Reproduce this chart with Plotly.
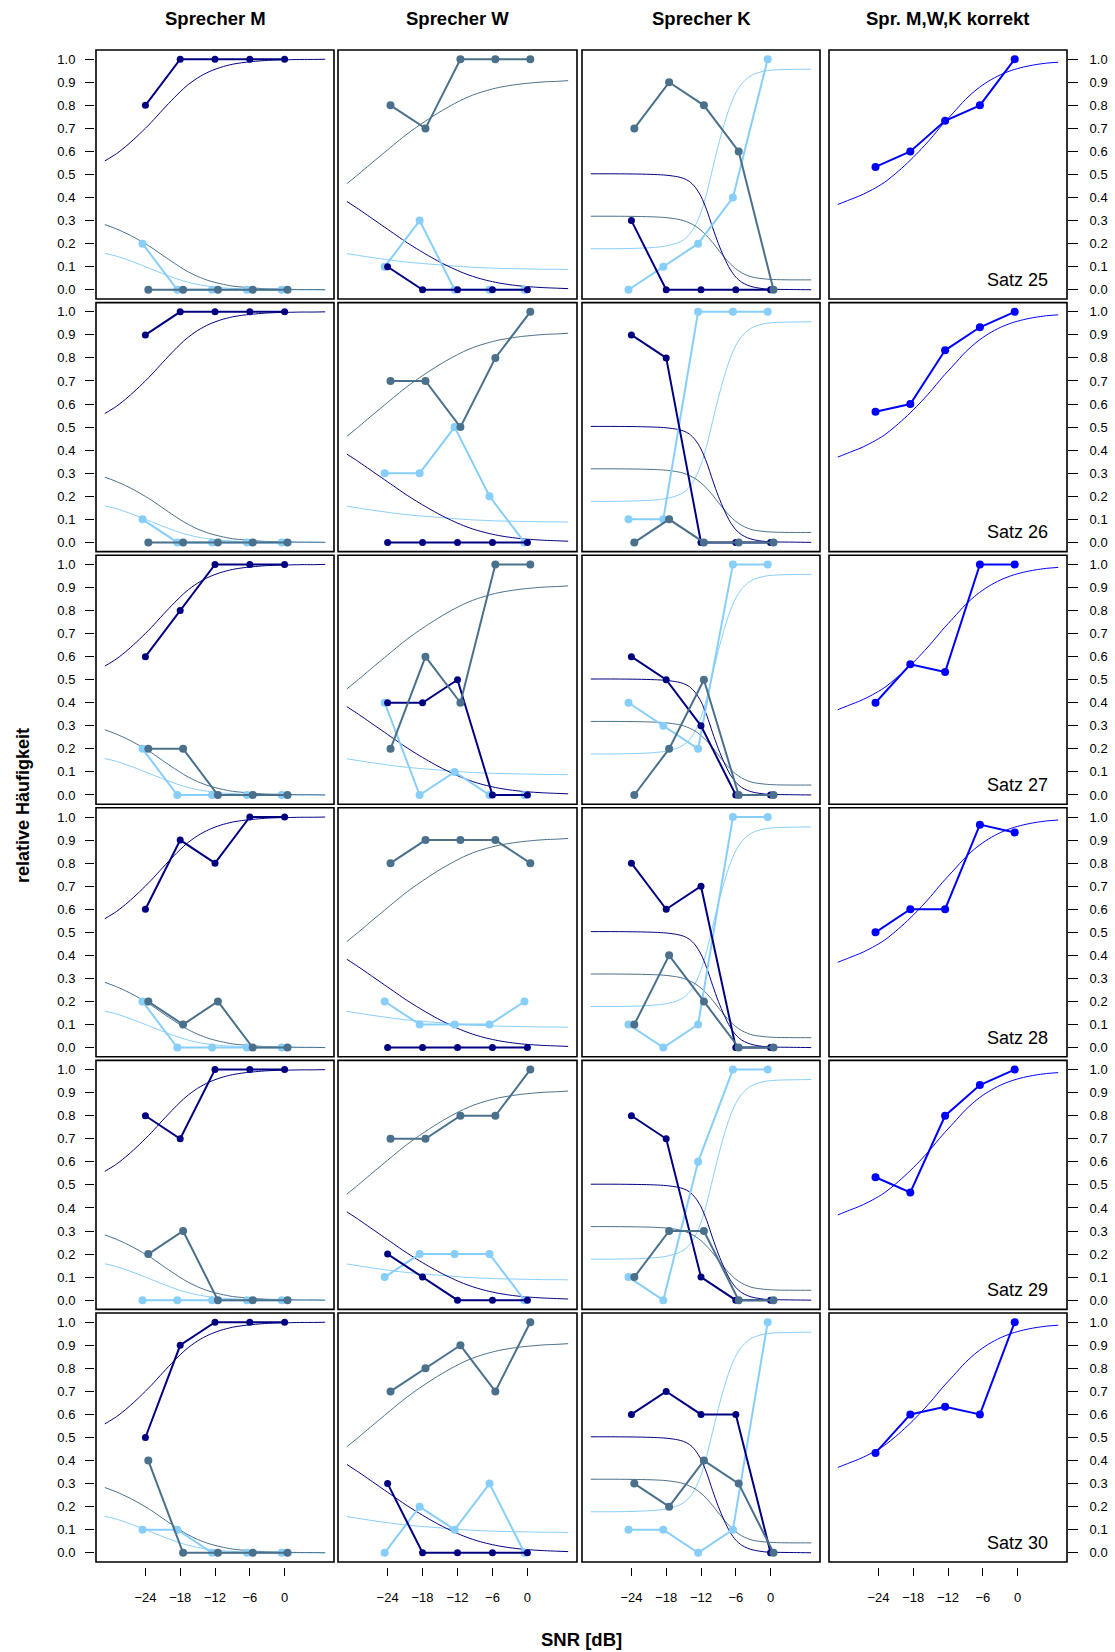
import plotly.graph_objects as go

# ---------------- data ----------------
SNR = [-24, -18, -12, -6, 0]
Y_TICKS = [0.0, 0.1, 0.2, 0.3, 0.4, 0.5, 0.6, 0.7, 0.8, 0.9, 1.0]
Y_TICK_TEXT = ["0.0", "0.1", "0.2", "0.3", "0.4", "0.5", "0.6", "0.7", "0.8", "0.9", "1.0"]
SPEAKERS = ["Sprecher M", "Sprecher W", "Sprecher K", "Spr. M,W,K korrekt"]
SATZ = ["Satz 25", "Satz 26", "Satz 27", "Satz 28", "Satz 29", "Satz 30"]

# observed relative frequencies, one row per Satz (25..30)
M_NAVY = [[0.8, 1, 1, 1, 1], [0.9, 1, 1, 1, 1], [0.6, 0.8, 1, 1, 1],
          [0.6, 0.9, 0.8, 1, 1], [0.8, 0.7, 1, 1, 1], [0.5, 0.9, 1, 1, 1]]
M_STEEL = [[0, 0, 0, 0, 0], [0, 0, 0, 0, 0], [0.2, 0.2, 0, 0, 0],
           [0.2, 0.1, 0.2, 0, 0], [0.2, 0.3, 0, 0, 0], [0.4, 0, 0, 0, 0]]
M_LIGHT = [[0.2, 0, 0, 0, 0], [0.1, 0, 0, 0, 0], [0.2, 0, 0, 0, 0],
           [0.2, 0, 0, 0, 0], [0, 0, 0, 0, 0], [0.1, 0.1, 0, 0, 0]]

W_NAVY = [[0.1, 0, 0, 0, 0], [0, 0, 0, 0, 0], [0.4, 0.4, 0.5, 0, 0],
          [0, 0, 0, 0, 0], [0.2, 0.1, 0, 0, 0], [0.3, 0, 0, 0, 0]]
W_STEEL = [[0.8, 0.7, 1, 1, 1], [0.7, 0.7, 0.5, 0.8, 1], [0.2, 0.6, 0.4, 1, 1],
           [0.8, 0.9, 0.9, 0.9, 0.8], [0.7, 0.7, 0.8, 0.8, 1], [0.7, 0.8, 0.9, 0.7, 1]]
W_LIGHT = [[0.1, 0.3, 0, 0, 0], [0.3, 0.3, 0.5, 0.2, 0], [0.4, 0, 0.1, 0, 0],
           [0.2, 0.1, 0.1, 0.1, 0.2], [0.1, 0.2, 0.2, 0.2, 0], [0, 0.2, 0.1, 0.3, 0]]

K_NAVY = [[0.3, 0, 0, 0, 0], [0.9, 0.8, 0, 0, 0], [0.6, 0.5, 0.3, 0, 0],
          [0.8, 0.6, 0.7, 0, 0], [0.8, 0.7, 0.1, 0, 0], [0.6, 0.7, 0.6, 0.6, 0]]
K_STEEL = [[0.7, 0.9, 0.8, 0.6, 0], [0, 0.1, 0, 0, 0], [0, 0.2, 0.5, 0, 0],
           [0.1, 0.4, 0.2, 0, 0], [0.1, 0.3, 0.3, 0, 0], [0.3, 0.2, 0.4, 0.3, 0]]
K_LIGHT = [[0, 0.1, 0.2, 0.4, 1], [0.1, 0.1, 1, 1, 1], [0.4, 0.3, 0.2, 1, 1],
           [0.1, 0, 0.1, 1, 1], [0.1, 0, 0.6, 1, 1], [0.1, 0.1, 0, 0.1, 1]]

KORREKT = [[0.533, 0.6, 0.733, 0.8, 1.0], [0.567, 0.6, 0.833, 0.933, 1.0],
           [0.4, 0.567, 0.533, 1.0, 1.0], [0.5, 0.6, 0.6, 0.967, 0.933],
           [0.533, 0.467, 0.8, 0.933, 1.0], [0.433, 0.6, 0.633, 0.6, 1.0]]

# fitted curves, same in every row of a column
FIT_X = [-31, -29, -27, -25, -23, -21, -19, -17, -15, -13, -11, -9, -7, -5, -3, -1, 1, 3, 5, 7]
M_NAVY_FIT = [0.559, 0.590, 0.630, 0.676, 0.726, 0.781, 0.834, 0.882, 0.919, 0.946,
              0.965, 0.978, 0.986, 0.991, 0.995, 0.997, 0.998, 0.999, 0.999, 1.0]
M_STEEL_FIT = [0.283, 0.264, 0.241, 0.214, 0.184, 0.149, 0.115, 0.083, 0.058, 0.039,
               0.026, 0.016, 0.011, 0.007, 0.004, 0.003, 0.002, 0.001, 0.001, 0.0]
M_LIGHT_FIT = [0.158, 0.146, 0.129, 0.110, 0.090, 0.070, 0.051, 0.035, 0.023, 0.015,
               0.009, 0.006, 0.003, 0.002, 0.001, 0.001, 0.0, 0.0, 0.0, 0.0]
W_NAVY_FIT = [0.383, 0.350, 0.315, 0.280, 0.245, 0.210, 0.178, 0.148, 0.120, 0.095,
              0.073, 0.055, 0.041, 0.030, 0.022, 0.016, 0.012, 0.009, 0.007, 0.005]
W_STEEL_FIT = [0.460, 0.501, 0.544, 0.586, 0.628, 0.669, 0.706, 0.740, 0.772, 0.801,
               0.827, 0.848, 0.864, 0.877, 0.886, 0.893, 0.898, 0.902, 0.904, 0.907]
W_LIGHT_FIT = [0.157, 0.149, 0.141, 0.134, 0.127, 0.121, 0.116, 0.112, 0.108, 0.104,
               0.100, 0.097, 0.095, 0.093, 0.092, 0.091, 0.090, 0.089, 0.089, 0.088]
KORREKT_FIT = [0.370, 0.390, 0.410, 0.435, 0.465, 0.505, 0.550, 0.600, 0.655, 0.715,
               0.770, 0.825, 0.870, 0.905, 0.932, 0.952, 0.966, 0.976, 0.983, 0.987]

FIT_X_K = [-31, -27, -23, -20, -18, -16, -15, -14, -13, -12, -11, -10, -9, -8, -7, -6,
           -5, -4, -3, -1, 1, 4, 7]
K_NAVY_FIT = [0.503, 0.503, 0.502, 0.500, 0.497, 0.490, 0.483, 0.470, 0.445, 0.405, 0.345,
              0.270, 0.200, 0.140, 0.090, 0.055, 0.033, 0.020, 0.012, 0.004, 0.002, 0.001, 0.0]
K_STEEL_FIT = [0.319, 0.319, 0.318, 0.316, 0.313, 0.306, 0.300, 0.290, 0.277, 0.258, 0.234,
               0.205, 0.173, 0.142, 0.114, 0.091, 0.074, 0.062, 0.054, 0.047, 0.044, 0.043, 0.043]
K_LIGHT_FIT = [0.178, 0.178, 0.180, 0.184, 0.190, 0.204, 0.217, 0.240, 0.278, 0.337, 0.421,
               0.525, 0.627, 0.718, 0.796, 0.854, 0.893, 0.918, 0.934, 0.949, 0.954, 0.956, 0.957]

# ---------------- styling ----------------
NAVY = "#000080"
STEEL = "#4A708B"
LIGHT = "#87CEFA"
BLUE = "#0000FF"
FONT = "Liberation Sans, Arial, Helvetica, sans-serif"

W, H = 1115, 1652
COL_PX = [(96, 334), (338, 577), (582, 820), (829, 1067)]
ROW_TOP = [50, 302.6, 555.2, 807.8, 1060.4, 1313]
ROW_H = 249
X_RANGE = [-32.52, 8.52]
Y_RANGE = [-0.04, 1.04]

OFF = {"light": -0.5, "navy": 0.0, "steel": 0.5, "blue": -0.5}

fig = go.Figure()
layout = dict(
    width=W, height=H, margin=dict(l=0, r=0, t=0, b=0),
    paper_bgcolor="white", plot_bgcolor="white",
    font=dict(family=FONT, color="black", size=13),
    showlegend=False,
)
shapes = []
annotations = []

column_data = [
    (M_NAVY, M_STEEL, M_LIGHT, M_NAVY_FIT, M_STEEL_FIT, M_LIGHT_FIT, FIT_X),
    (W_NAVY, W_STEEL, W_LIGHT, W_NAVY_FIT, W_STEEL_FIT, W_LIGHT_FIT, FIT_X),
    (K_NAVY, K_STEEL, K_LIGHT, K_NAVY_FIT, K_STEEL_FIT, K_LIGHT_FIT, FIT_X_K),
]

for r in range(6):
    for c in range(4):
        idx = r * 4 + c + 1
        xa = f"x{idx}" if idx > 1 else "x"
        ya = f"y{idx}" if idx > 1 else "y"
        xname = f"xaxis{idx}" if idx > 1 else "xaxis"
        yname = f"yaxis{idx}" if idx > 1 else "yaxis"
        l, rr = COL_PX[c]
        top = ROW_TOP[r]
        xdom = [l / W, rr / W]
        ydom = [1 - (top + ROW_H) / H, 1 - top / H]

        xax = dict(domain=xdom, range=X_RANGE, showgrid=False, zeroline=False,
                   showline=False, fixedrange=True)
        if r == 5:
            xax.update(anchor="free", position=1 - (top + ROW_H + 4.5) / H,
                       tickmode="array", tickvals=SNR, ticks="outside", ticklen=8,
                       tickwidth=1.3, tickcolor="black", showticklabels=True,
                       ticklabelstandoff=11, tickfont=dict(size=13, family=FONT))
        else:
            xax.update(anchor=ya, showticklabels=False, ticks="")
        layout[xname] = xax

        yax = dict(domain=ydom, range=Y_RANGE, showgrid=False, zeroline=False,
                   showline=False, fixedrange=True)
        if c == 0:
            yax.update(anchor="free", position=94 / W, side="left",
                       tickmode="array", tickvals=Y_TICKS, ticktext=Y_TICK_TEXT,
                       ticks="outside", ticklen=9, tickwidth=1.3, tickcolor="black",
                       showticklabels=True, ticklabelstandoff=7,
                       tickfont=dict(size=13, family=FONT))
        elif c == 3:
            yax.update(anchor="free", position=rr / W, side="right",
                       tickmode="array", tickvals=Y_TICKS, ticktext=Y_TICK_TEXT,
                       ticks="outside", ticklen=10, tickwidth=1.3, tickcolor="black",
                       showticklabels=True, ticklabelstandoff=9,
                       tickfont=dict(size=13, family=FONT))
        else:
            yax.update(anchor=xa, showticklabels=False, ticks="")
        layout[yname] = yax

        # panel border
        shapes.append(dict(type="rect", xref=f"{xa} domain", yref=f"{ya} domain",
                           x0=0, x1=1, y0=0, y1=1, line=dict(color="black", width=1.6),
                           layer="above"))

        if c < 3:
            navy, steel, light, nfit, sfit, lfit, fx = column_data[c]
            for fy, col in ((lfit, LIGHT), (sfit, STEEL), (nfit, NAVY)):
                fig.add_trace(go.Scatter(x=fx, y=fy, mode="lines", xaxis=xa, yaxis=ya,
                                         line=dict(color=col, width=1, shape="spline",
                                                   smoothing=0.8),
                                         hoverinfo="skip"))
            for vals, col, key, ms in ((light[r], LIGHT, "light", 8),
                                       (navy[r], NAVY, "navy", 7),
                                       (steel[r], STEEL, "steel", 8)):
                fig.add_trace(go.Scatter(x=[s + OFF[key] for s in SNR], y=vals,
                                         mode="lines+markers", xaxis=xa, yaxis=ya,
                                         line=dict(color=col, width=2),
                                         marker=dict(color=col, size=ms)))
        else:
            fig.add_trace(go.Scatter(x=FIT_X, y=KORREKT_FIT, mode="lines", xaxis=xa, yaxis=ya,
                                     line=dict(color=BLUE, width=1, shape="spline",
                                               smoothing=0.8),
                                     hoverinfo="skip"))
            fig.add_trace(go.Scatter(x=[s + OFF["blue"] for s in SNR], y=KORREKT[r],
                                     mode="lines+markers", xaxis=xa, yaxis=ya,
                                     line=dict(color=BLUE, width=2),
                                     marker=dict(color=BLUE, size=8)))
            annotations.append(dict(text=SATZ[r], xref=f"{xa} domain", yref=f"{ya} domain",
                                    x=0.93, y=0.077, xanchor="right", yanchor="middle",
                                    showarrow=False, font=dict(size=18, family=FONT,
                                                                color="black")))

# column titles
for c, name in enumerate(SPEAKERS):
    l, rr = COL_PX[c]
    annotations.append(dict(text=f"<b>{name}</b>", xref="paper", yref="paper",
                            x=(l + rr) / 2 / W, y=1 - 18.5 / H, xanchor="center",
                            yanchor="middle", showarrow=False,
                            font=dict(size=18.5, family=FONT, color="black")))

annotations.append(dict(text="<b>relative Häufigkeit</b>", xref="paper", yref="paper",
                        x=23 / W, y=1 - 806 / H, xanchor="center", yanchor="middle",
                        textangle=-90, showarrow=False,
                        font=dict(size=18, family=FONT, color="black")))
annotations.append(dict(text="<b>SNR [dB]</b>", xref="paper", yref="paper",
                        x=581 / W, y=1 - 1639 / H, xanchor="center", yanchor="middle",
                        showarrow=False, font=dict(size=18.5, family=FONT, color="black")))

layout["shapes"] = shapes
layout["annotations"] = annotations
fig.update_layout(**layout)
fig.write_html("out.html")
